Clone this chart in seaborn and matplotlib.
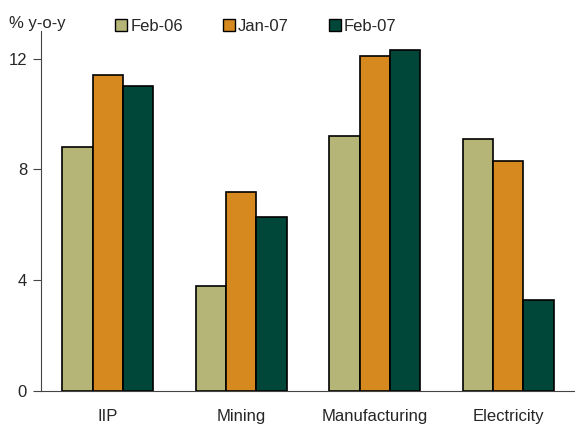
import pandas as pd
import matplotlib.pyplot as plt
import seaborn as sns
from matplotlib.lines import Line2D

# Datos
sectors = ['IIP', 'Mining', 'Manufacturing', 'Electricity']
periods = ['Feb-06', 'Jan-07', 'Feb-07']
feb06 = [8.8, 3.8, 9.2, 9.1]
jan07 = [11.4, 7.2, 12.1, 8.3]
feb07 = [11.0, 6.3, 12.3, 3.3]
yticks = [0, 4, 8, 12]

colors = ['#B5B577', '#D6891E', '#00473A']

df = pd.DataFrame({
    'Sector': sectors * 3,
    'Period': [p for p in periods for _ in sectors],
    'Value': feb06 + jan07 + feb07,
})

sns.set_style('white')
plt.rcParams['font.family'] = ['Liberation Sans', 'DejaVu Sans']

fig = plt.figure(figsize=(5.75, 4.25), dpi=100)
ax = fig.add_axes([0.0713, 0.08, 0.9287, 0.847])

sns.barplot(data=df, x='Sector', y='Value', hue='Period', order=sectors,
            hue_order=periods, palette=colors, saturation=1, width=0.68, gap=0,
            edgecolor='black', linewidth=1.2, legend=False, ax=ax)

ax.set_ylim(0, 13)
ax.set_xlim(-0.5, 3.5)
ax.set_yticks(yticks)
ax.set_yticklabels([str(t) for t in yticks], fontsize=12)
ax.set_xticks(range(len(sectors)))
ax.set_xticklabels(sectors, fontsize=12)
ax.set_xticks([0.5, 1.5, 2.5], minor=True)
ax.tick_params(axis='x', which='major', length=0, pad=13)
ax.tick_params(axis='x', which='minor', length=5, width=0.8, color='#444444', direction='out')
ax.tick_params(axis='y', which='major', length=6, width=0.8, color='#444444', direction='out', pad=4, left=True)
ax.set_xlabel('')
ax.set_ylabel('')

for side in ['top', 'right']:
    ax.spines[side].set_visible(False)
for side in ['left', 'bottom']:
    ax.spines[side].set_color('#444444')
    ax.spines[side].set_linewidth(0.8)

fig.text(0.015, 0.945, '% y-o-y', fontsize=12, ha='left', va='center')

handles = [Line2D([0], [0], marker='s', linestyle='', markersize=8,
                  markerfacecolor=c, markeredgecolor='black', markeredgewidth=1)
           for c in colors]
fig.legend(handles, periods, loc='center left', bbox_to_anchor=(0.17, 0.938),
           ncol=3, frameon=False, fontsize=12, handletextpad=0.05,
           columnspacing=2.25, handlelength=1.0)

plt.savefig('out.png', dpi=100, facecolor='white')
plt.close()
